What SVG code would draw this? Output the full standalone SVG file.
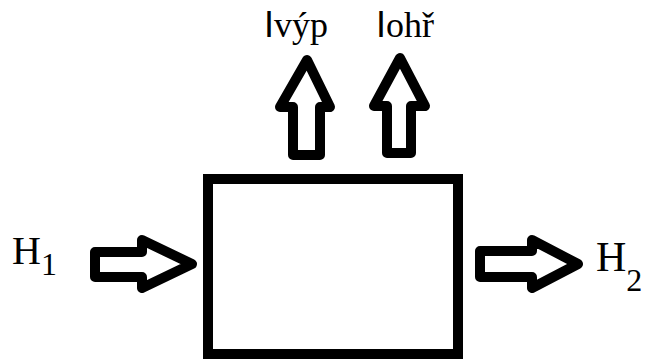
<svg xmlns="http://www.w3.org/2000/svg" width="651" height="360" viewBox="0 0 651 360">
<style>
.arrow{fill:#fff;stroke:#000;stroke-width:10;stroke-linejoin:round}
.box{fill:#fff;stroke:#000;stroke-width:10}
.lbl{font-family:"Liberation Serif","Times New Roman",serif;fill:#000}
.bar{font-family:"Liberation Sans",Arial,sans-serif}
</style>
<rect width="651" height="360" fill="#fff"/>
<g id="process">
<rect class="box" x="208" y="179" width="250" height="175"/>
</g>
<g id="connectors">
<polygon id="arrow-H1" class="arrow" points="95,252 142,252 142,240 192,264 142,288 142,277 95,277"/>
<polygon id="arrow-H2" class="arrow" points="480,251 532,251 532,240 578,264 532,288 532,277 480,277"/>
<polygon id="arrow-vyp" class="arrow" points="293,155 293,107 280,107 307,60 330,107 320,107 320,155"/>
<polygon id="arrow-ohr" class="arrow" points="387,153 387,106 374,106 400,58 425,106 411,106 411,153"/>
</g>
<g id="label-H1"><text class="lbl" x="12" y="264" font-size="40">H<tspan font-size="32" dy="11">1</tspan></text></g>
<g id="label-H2"><text class="lbl" x="596" y="271" font-size="42">H<tspan font-size="32" dy="20">2</tspan></text></g>
<g id="label-vyp"><text class="lbl" x="264" y="37" font-size="36"><tspan class="bar">I</tspan>výp</text></g>
<g id="label-ohr"><text class="lbl" x="376" y="37" font-size="36"><tspan class="bar">I</tspan>ohř</text></g>
</svg>
